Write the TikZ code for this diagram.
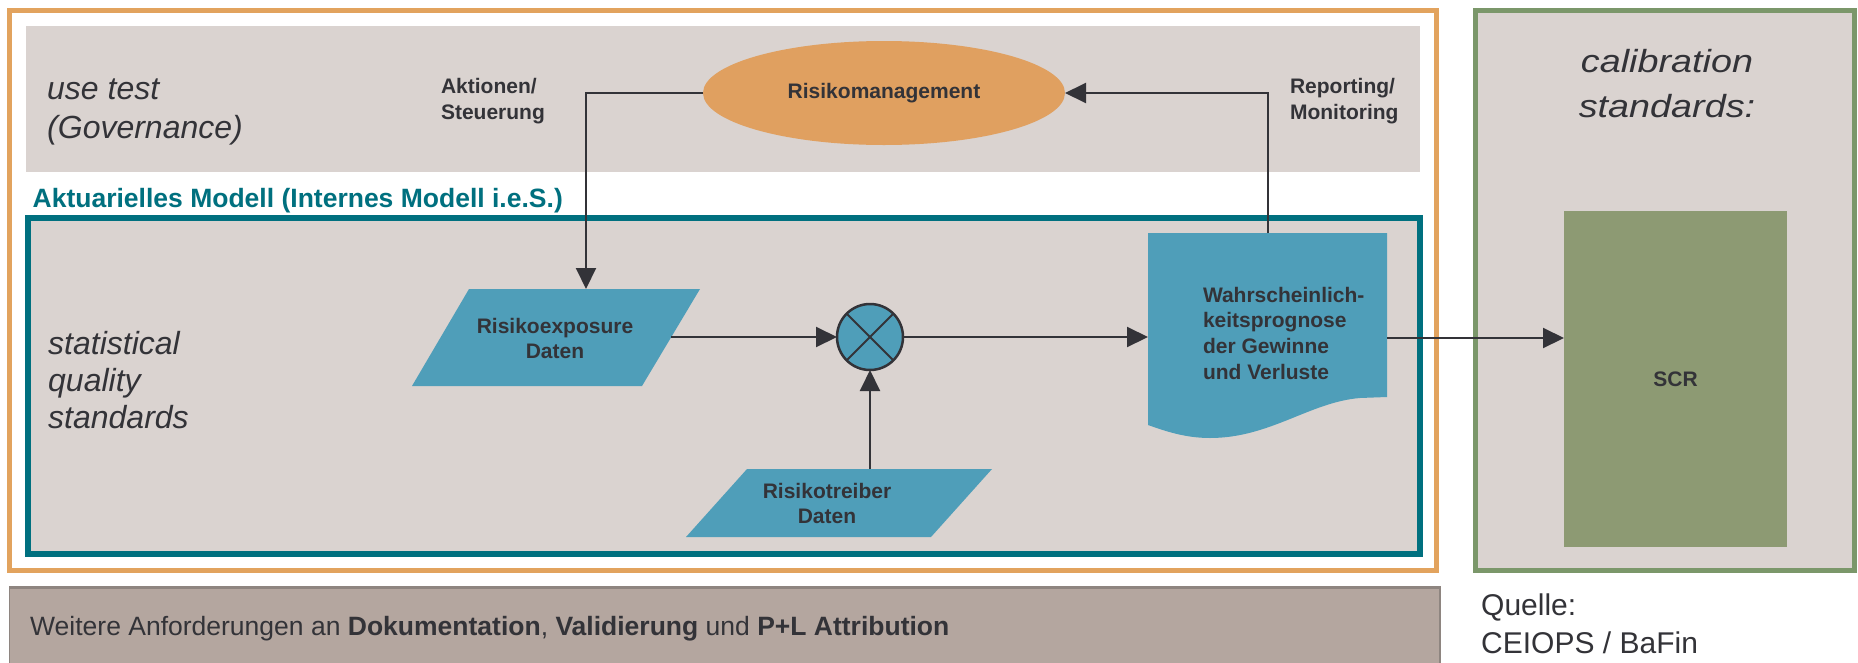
\documentclass[tikz,border=0pt]{standalone}
\usepackage{fontspec}
\setmainfont{Liberation Sans}
\usetikzlibrary{arrows.meta,shapes.geometric}
\definecolor{orangeC}{HTML}{E2A35E}
\definecolor{ellC}{HTML}{E0A060}
\definecolor{grayC}{HTML}{DAD3D0}
\definecolor{tealC}{HTML}{00707F}
\definecolor{blueC}{HTML}{4F9EB9}
\definecolor{darkC}{HTML}{333338}
\definecolor{greenC}{HTML}{7B976A}
\definecolor{scrC}{HTML}{8D9A73}
\definecolor{botC}{HTML}{B4A69F}
\definecolor{botB}{HTML}{8E8580}
\tikzset{
  arr/.style={draw=darkC, line width=2pt, -{Triangle[length=21pt,width=20pt]}},
  lbl/.style={font=\fontsize{21}{26}\selectfont\bfseries, text=darkC, inner sep=0pt, outer sep=0pt},
  ital/.style={font=\fontsize{32}{38.5}\selectfont\itshape, text=darkC, inner sep=0pt, align=left},
}
\begin{document}
\begin{tikzpicture}[x=1pt,y=-1pt]
\useasboundingbox[fill=white] (0,0) rectangle (1858,662);
% frames
\draw[orangeC, line width=5pt] (9.5,10) rectangle (1436,570);
\fill[grayC] (26,26) rectangle (1420,172);
\draw[tealC, line width=5.5pt, fill=grayC] (28,218) rectangle (1420,554);
\draw[greenC, line width=5pt, fill=grayC] (1475,10) rectangle (1854,570);
% bottom box
\fill[botC] (9.5,587) rectangle (1440,670);
\draw[botB, line width=1.2pt] (9.5,670) -- (9.5,587) -- (1440,587) -- (1440,670);
\draw[botB, line width=3pt] (9.5,587) -- (1440,587);
% labels
\node[ital, anchor=north west] (usetest) at (47,79) {use test\\(Governance)};
\node[ital, anchor=north west, font=\fontsize{32}{37}\selectfont\itshape] (stat) at (48,331) {statistical\\quality\\standards};
\node[ital, anchor=north, align=center, font=\fontsize{32}{45}\selectfont\itshape, xscale=1.18, transform shape] (calib) at (1667,49) {calibration\\standards:};
\node[anchor=base west, inner sep=0pt, text=tealC, font=\fontsize{26.5}{30}\selectfont\bfseries] (akt) at (32.5,207) {Aktuarielles Modell (Internes Modell i.e.S.)};
\node[lbl, anchor=north west, align=left] (akts) at (441,78) {Aktionen/\\Steuerung};
\node[lbl, anchor=north west, align=left] (rep) at (1290,78) {Reporting/\\Monitoring};
% Risikomanagement
\node[ellipse, fill=ellC, minimum width=362pt, minimum height=104pt, inner sep=0pt, lbl] (rm) at (884,93) {Risikomanagement};
% Risikoexposure
\fill[blueC] (469,289) -- (700,289) -- (642,386) -- (412,386) -- cycle;
\node[lbl, anchor=north, align=center, font=\fontsize{21}{25}\selectfont\bfseries] (rexp) at (555,318) {Risikoexposure\\Daten};
\coordinate (rexpN) at (586,289);
\coordinate (rexpE) at (671,337);
% Risikotreiber
\fill[blueC] (747,469) -- (992,469) -- (931,537) -- (686,537) -- cycle;
\node[lbl, anchor=north, align=center, font=\fontsize{21}{25}\selectfont\bfseries] (rtr) at (827,483) {Risikotreiber\\Daten};
\coordinate (rtrN) at (870,469);
% multiplication circle
\node[circle, draw=darkC, line width=2.5pt, fill=blueC, minimum size=66pt, inner sep=0pt, outer sep=0pt] (mul) at (870,337) {};
\draw[darkC, line width=2pt] (mul.north west) -- (mul.south east);
\draw[darkC, line width=2pt] (mul.north east) -- (mul.south west);
% document shape
\fill[blueC] (1148,233) -- (1387,233) -- (1387,397) -- (1360,398)
  .. controls (1310,402) and (1270,438) .. (1210,438)
  .. controls (1185,438) and (1165,431) .. (1148,425) -- cycle;
\node[lbl, anchor=north west, align=left, font=\fontsize{21}{25.6}\selectfont\bfseries] (doc) at (1203,287) {Wahrscheinlich-\\keitsprognose\\der Gewinne\\und Verluste};
\coordinate (docN) at (1268,233);
\coordinate (docW) at (1148,337);
\coordinate (docE) at (1387,338);
% SCR
\node[fill=scrC, minimum width=223pt, minimum height=336pt, inner sep=0pt, lbl, anchor=north west] (scr) at (1564,211) {SCR};
% connectors
\draw[arr] (rm.west) -| (rexpN);
\draw[arr] (docN) |- (rm.east);
\draw[arr] (rexpE) -- (mul.west);
\draw[arr] (rtrN) -- (mul.south);
\draw[arr] (mul.east) -- (docW);
\draw[arr] (docE) -- (docE -| scr.west);
% bottom texts
\node[anchor=base west, inner sep=0pt, text=darkC, font=\fontsize{26.5}{30}\selectfont] (weit) at (30,635) {Weitere Anforderungen an \textbf{Dokumentation}, \textbf{Validierung} und \textbf{P+L Attribution}};
\node[anchor=north west, inner sep=0pt, align=left, text=darkC, font=\fontsize{30}{38}\selectfont] (quelle) at (1481,594) {Quelle:\\CEIOPS / BaFin};
\end{tikzpicture}
\end{document}
